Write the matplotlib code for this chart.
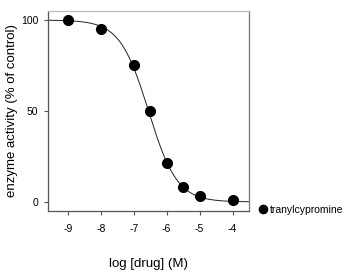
import numpy as np
import matplotlib.pyplot as plt

plt.rcParams['font.family'] = ['Liberation Sans', 'DejaVu Sans']
plt.rcParams['axes.unicode_minus'] = False

# measured points
log_conc = [-9, -8, -7, -6.5, -6, -5.5, -5, -4]
activity = [100, 95, 75.5, 50, 21.5, 8, 3.2, 1]

# fitted sigmoid parameters (top, bottom, logIC50, hill slope)
top, bottom, log_ic50, hill = 100, 0, -6.55, 1.0

fig = plt.figure(figsize=(3.5, 2.75), dpi=100)
ax = fig.add_axes([48/350, 1 - 211/275, 201/350, 200/275])

xs = np.linspace(-9.6, -3.5, 300)
fit = bottom + (top - bottom) / (1 + 10 ** ((xs - log_ic50) * hill))
ax.plot(xs, fit, color='#222222', lw=0.7)
ax.plot(log_conc, activity, 'o', color='black', ms=7, label='tranylcypromine', clip_on=False)

ax.set_xlim(-9.6, -3.5)
ax.set_ylim(-5, 105)
ax.set_xticks([-9, -8, -7, -6, -5, -4])
ax.set_yticks([0, 50, 100])
ax.tick_params(labelsize=7.5, length=3, width=0.8, color='#555555')
ax.tick_params(axis='y', pad=4)
ax.tick_params(axis='x', pad=6)

ax.spines['left'].set_color('#555555')
ax.spines['bottom'].set_color('#555555')
ax.spines['right'].set_color('#777777')
ax.spines['top'].set_color('#bbbbbb')
for s in ax.spines.values():
    s.set_linewidth(0.9)

ax.set_xlabel('log [drug] (M)', fontsize=9.5)
ax.xaxis.set_label_coords(0.5, -0.235)
ax.set_ylabel('enzyme activity (% of control)', fontsize=9.5)
ax.yaxis.set_label_coords(-0.15, 0.5)

ax.legend(loc='center left', bbox_to_anchor=(1.025, 0.005), frameon=False, fontsize=7.5,
          handlelength=1.0, handletextpad=0.1, markerscale=0.85,
          borderaxespad=0.1, borderpad=0.3)

fig.savefig('out.png', dpi=100)
